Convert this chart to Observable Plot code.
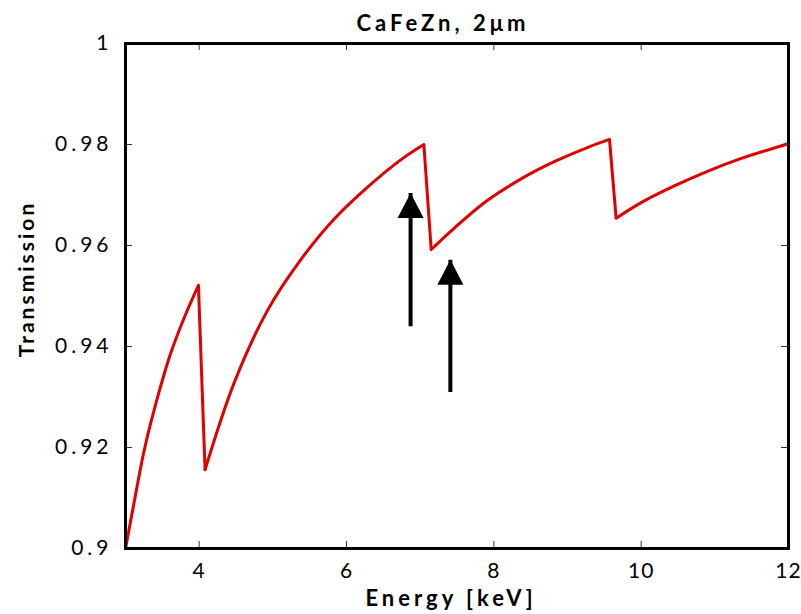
<!DOCTYPE html>
<html>
<head>
<meta charset="utf-8">
<script src="https://cdn.jsdelivr.net/npm/d3@7"></script>
<script src="https://cdn.jsdelivr.net/npm/@observablehq/plot@0.6"></script>
<style>
  html, body { margin: 0; padding: 0; background: #fff; }
  svg { display: block; }
</style>
</head>
<body>
<div id="chart"></div>
<script>
// Transmission of a 2 µm CaFeZn layer vs photon energy (absorption edges of Ca, Fe, Zn)
const energy = [3.00, 3.10, 3.255, 3.39, 3.61, 3.80, 3.99,
                4.08, 4.48, 4.93, 5.38, 5.83, 6.29, 6.74, 7.05,
                7.15, 7.46, 7.91, 8.37, 8.82, 9.27, 9.57,
                9.66, 10.00, 10.45, 10.90, 11.35, 11.96, 12.00];
const transmission = [0.9000, 0.9078, 0.9195, 0.9275, 0.9385, 0.9458, 0.9521,
                      0.9156, 0.9330, 0.9472, 0.9572, 0.9652, 0.9716, 0.9770, 0.9800,
                      0.9592, 0.9634, 0.9689, 0.9732, 0.9766, 0.9794, 0.9810,
                      0.9654, 0.9685, 0.9718, 0.9747, 0.9772, 0.9800, 0.9802];

// Arrows marking the Fe edge region
const arrowEnergy = [6.87, 7.41];
const arrowFrom = [0.9440, 0.9310];
const arrowTo = [0.9704, 0.9572];

const xTicks = [4, 6, 8, 10, 12];
const yTicks = [0.9, 0.92, 0.94, 0.96, 0.98, 1];

const titleText = "CaFeZn, 2\u03bcm";
const xLabel = "Energy [keV]";
const yLabel = "Transmission";

// Split the curve into smooth pieces between absorption edges
const points = energy.map((e, i) => ({e, t: transmission[i], seg: 0}));
for (let i = 1; i < points.length; i++) {
  points[i].seg = points[i - 1].seg + (points[i].t < points[i - 1].t ? 1 : 0);
}
const edges = [];
for (let i = 1; i < points.length; i++) {
  if (points[i].seg !== points[i - 1].seg) edges.push({from: points[i - 1], to: points[i]});
}
const arrows = arrowEnergy.map((e, i) => ({e, y1: arrowFrom[i], y2: arrowTo[i]}));

// Filled arrow head with its tip at the anchor point
const arrowHead = {
  draw(context) {
    context.moveTo(0, 0);
    context.lineTo(13, 25);
    context.lineTo(-13, 25);
    context.closePath();
  }
};

const W = 801, H = 614;
const mL = 125, mR = 13, mT = 43, mB = 66;
const innerW = W - mL - mR, innerH = H - mT - mB;
const tickLen = 7;
const red = "#e00000";

const chart = Plot.plot({
  width: W,
  height: H,
  marginLeft: mL,
  marginRight: mR,
  marginTop: mT,
  marginBottom: mB,
  x: {domain: [3, 12]},
  y: {domain: [0.9, 1]},
  style: {fontFamily: "Lato, sans-serif", fontSize: "21px", color: "#000", background: "#fff"},
  marks: [
    // inward ticks on all four sides
    Plot.tickX(xTicks, {x: d => d, insetTop: innerH - tickLen, stroke: "#333", strokeWidth: 1}),
    Plot.tickX(xTicks, {x: d => d, insetBottom: innerH - tickLen, stroke: "#333", strokeWidth: 1}),
    Plot.tickY(yTicks, {y: d => d, insetRight: innerW - tickLen, stroke: "#333", strokeWidth: 1}),
    Plot.tickY(yTicks, {y: d => d, insetLeft: innerW - tickLen, stroke: "#333", strokeWidth: 1}),
    Plot.axisX(xTicks, {tickSize: 0, tickPadding: 15, label: null, fontSize: 21}),
    Plot.axisY(yTicks, {tickSize: 0, tickPadding: 13, label: null, tickFormat: d3.format("~g"), fontSize: 21}),
    // transmission curve
    Plot.line(points, {x: "e", y: "t", z: "seg", curve: "catmull-rom", stroke: red, strokeWidth: 3}),
    Plot.link(edges, {x1: d => d.from.e, y1: d => d.from.t, x2: d => d.to.e, y2: d => d.to.t, stroke: red, strokeWidth: 3}),
    // arrows
    Plot.link(arrows, {x1: "e", y1: "y1", x2: "e", y2: "y2", stroke: "#000", strokeWidth: 4}),
    Plot.dot(arrows, {x: "e", y: "y2", symbol: arrowHead, fill: "#000", stroke: null, r: 10}),
    Plot.frame({stroke: "#000", strokeWidth: 3}),
    // title and axis labels
    Plot.text([titleText], {frameAnchor: "top", text: d => d, dx: -14, dy: -20, lineAnchor: "middle",
      textAnchor: "middle", fontSize: 22, fontWeight: "bold"}),
    Plot.text([xLabel], {frameAnchor: "bottom", text: d => d, dx: -6, dy: 50, lineAnchor: "middle",
      textAnchor: "middle", fontSize: 22, fontWeight: "bold"}),
    Plot.text([yLabel], {frameAnchor: "left", text: d => d, dx: -98, dy: -17, rotate: -90, lineAnchor: "middle",
      textAnchor: "middle", fontSize: 21, fontWeight: "bold"})
  ]
});

// letter spacing for the labels
const svg = d3.select(chart);
svg.selectAll("g[aria-label='y-axis tick label'] text").style("letter-spacing", "4px");
svg.selectAll("g[aria-label='x-axis tick label'] text").style("letter-spacing", "1px");
const spacing = new Map([[titleText, "4px"], [xLabel, "4px"], [yLabel, "3px"]]);
svg.selectAll("text")
  .filter(function() { return spacing.has(this.textContent); })
  .style("letter-spacing", function() { return spacing.get(this.textContent); });

document.getElementById("chart").appendChild(chart);
</script>
</body>
</html>
